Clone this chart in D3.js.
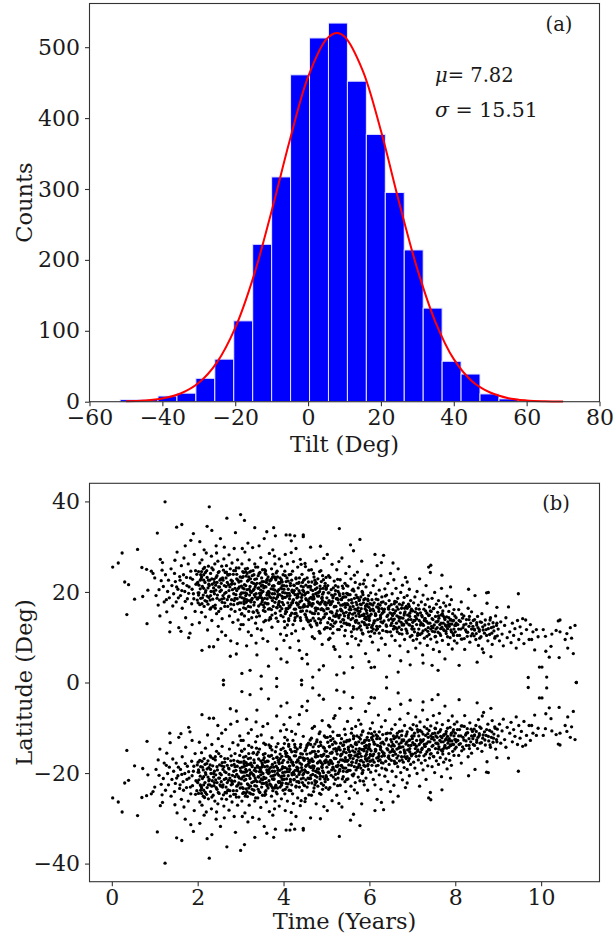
<!DOCTYPE html>
<html>
<head>
<meta charset="utf-8">
<title>Tilt distribution and butterfly diagram</title>
<style>
  body { margin: 0; background: #fff; }
  text { font-family: "DejaVu Serif", serif; fill: #1a1a1a; }
</style>
</head>
<body>
<script src="https://d3js.org/d3.v7.min.js"></script>
<script>

// ---- panel (a): tilt histogram ----
var binEdges = [-51.6, -46.4, -41.2, -36.0, -30.8, -25.6, -20.4, -15.2, -10.0, -4.8, 0.4,
                5.6, 10.8, 16.0, 21.2, 26.4, 31.6, 36.8, 42.0, 47.2, 52.4, 57.6];
var binCounts = [3, 3, 8, 12, 33, 60, 114, 222, 317, 461, 513,
                 534, 452, 377, 295, 214, 132, 57, 39, 11, 4];
// gaussian fit
var fitTilt   = [-50, -45, -40, -35, -30, -25, -20, -15, -10, -5, 0, 5, 7.82, 10, 15, 20, 25, 30, 35, 40, 45, 50, 55, 60, 65, 70];
var fitCounts = [0.5, 1.6, 4.5, 11.5, 26.6, 55.4, 104, 176, 269, 369, 458, 511, 520, 515, 467, 382, 281, 187, 112, 60, 29, 13, 5, 1.8, 0.6, 0.2];
var fitLabels = ["7.82", "15.51"];
var tiltTicks  = [-60, -40, -20, 0, 20, 40, 60, 80];
var countTicks = [0, 100, 200, 300, 400, 500];

// ---- panel (b): butterfly diagram ----
// flat pairs: time in 0.01 yr, |latitude| in 0.1 deg (plotted in both hemispheres)
var groupsRise = [
 2,255, 15,264, 24,286, 30,222, 35,150, 39,216, 53,184, 60,294, 70,254, 72,190, 81,250, 82,130, 84,204, 92,246, 96,241,
 100,231, 106,330, 113,272, 117,248, 124,399, 127,183, 151,343, 163,349, 184,314, 190,329,
 103,192, 108,171, 110,205, 112,147, 115,225, 118,265, 120,212, 122,178, 125,238, 128,156, 130,201, 132,226, 134,187, 136,133,
 138,251, 140,214, 142,169, 144,196, 146,241, 148,223, 150,178, 152,288, 154,206, 156,121, 158,234, 160,192, 162,258, 164,164,
 166,219, 168,275, 170,201, 172,143, 174,232, 176,185, 178,262, 180,211, 182,109, 184,246, 186,174, 188,228, 190,196, 192,283,
 194,157, 196,217, 198,239, 199,182, 171,302, 147,270, 135,112, 187,128, 161,113, 179,99, 210,71, 227,79,
 200,221, 201,176, 202,245, 203,198, 204,132, 205,264, 206,207, 207,186, 208,229, 209,155,
 210,271, 211,212, 213,193, 214,238, 215,168, 216,254, 217,221, 218,145, 219,203,
 220,286, 221,179, 222,232, 223,116, 224,209, 225,257, 226,188, 227,388, 228,226, 229,162,
 230,241, 231,201, 232,279, 233,137, 234,217, 235,184, 236,249, 237,79, 238,228, 239,196,
 240,262, 241,171, 242,215, 243,302, 244,152, 245,236, 246,193, 247,268, 248,124, 249,211,
 250,245, 251,182, 252,226, 253,318, 254,163, 255,204, 256,257, 257,141, 258,231, 259,192, 260,5,
 261,273, 262,214, 263,176, 264,243, 265,104, 266,199, 267,258, 268,363, 269,221, 270,168,
 271,237, 272,189, 273,282, 274,147, 275,211, 276,251, 277,92, 278,226, 279,183, 280,264,
 281,205, 282,133, 283,239, 284,172, 285,296, 286,218, 287,157, 288,247, 289,194, 290,63,
 291,229, 292,185, 293,271, 294,138, 295,208, 296,253, 297,176, 298,118, 299,233,
 205,311, 215,293, 233,336, 247,95, 262,299, 276,58, 288,331, 222,345, 244,286, 256,112, 292,86, 209,245
];
var groupsMax = [
 300,195, 300,371, 301,224, 302,151, 303,262, 304,187, 305,209, 306,128, 307,243, 308,174, 309,216,
 310,288, 311,198, 312,163, 313,235, 314,81, 315,205, 316,252, 317,181, 318,226, 319,139,
 320,271, 321,193, 322,212, 323,167, 324,246, 325,104, 326,221, 327,186, 328,298, 329,203,
 330,155, 331,238, 332,177, 333,262, 334,211, 335,131, 336,196, 337,229, 338,61, 339,184,
 340,255, 341,208, 342,169, 343,241, 344,147, 345,219, 346,192, 347,276, 348,116, 349,231,
 350,178, 351,249, 352,201, 353,159, 354,223, 355,318, 356,186, 357,242, 358,137, 359,211,
 360,264, 361,174, 362,198, 363,91, 364,233, 365,162, 366,217, 367,285, 368,189, 369,144,
 370,226, 371,207, 372,251, 373,122, 374,181, 375,239, 376,168, 377,342, 378,213, 379,196,
 380,262, 381,153, 382,227, 383,185, 384,74, 385,246, 386,201, 387,135, 388,219, 389,176,
 390,273, 391,194, 392,231, 393,107, 394,209, 395,257, 396,163, 397,222, 398,186, 399,145,
 301,128, 304,296, 307,165, 311,251, 314,183, 318,112, 321,244, 325,199, 329,156, 333,228,
 336,87, 340,187, 343,302, 347,173, 351,215, 354,134, 358,247, 361,193, 365,36, 368,224,
 372,161, 376,206, 379,279, 383,142, 386,233, 390,179, 394,52, 397,214, 399,238, 302,213,
 306,234, 309,147, 313,177, 317,308, 322,181, 326,143, 331,206, 335,255, 339,119, 344,197,
 348,213, 352,97, 357,176, 362,228, 366,138, 371,187, 375,293, 380,204, 385,165, 389,221,
 392,158, 396,191, 303,20, 322,27, 348,14, 384,9, 333,342, 309,358, 361,333, 381,324,
 312,245, 356,249, 374,232, 395,227,
 400,172, 401,214, 402,135, 403,246, 404,188, 405,157, 406,223, 407,104, 408,197, 409,262,
 410,163, 411,206, 412,141, 413,238, 414,185, 415,77, 416,219, 417,171, 418,287, 419,153,
 420,201, 421,246, 422,128, 423,183, 424,215, 425,162, 426,324, 427,194, 428,114, 429,231,
 430,176, 431,208, 432,147, 433,255, 434,189, 435,92, 436,221, 437,166, 438,198, 439,272,
 440,137, 441,213, 442,181, 443,239, 444,158, 445,204, 446,119, 447,226, 448,172, 449,193,
 450,263, 451,149, 452,215, 453,183, 454,62, 455,231, 456,168, 457,199, 458,134, 459,248,
 460,177, 461,211, 462,156, 463,299, 464,188, 465,123, 466,222, 467,174, 468,203, 469,142,
 470,241, 471,185, 472,97, 473,217, 474,164, 475,196, 476,268, 477,131, 478,209, 479,178,
 480,229, 481,152, 482,191, 483,113, 484,245, 485,173, 486,207, 487,139, 488,223, 489,186,
 490,84, 491,236, 492,161, 493,199, 494,274, 495,145, 496,213, 497,177, 498,121, 499,232,
 401,93, 404,283, 407,156, 411,224, 415,192, 419,108, 423,267, 427,143, 431,187, 435,219,
 439,165, 443,53, 447,201, 451,256, 455,138, 459,174, 463,212, 467,101, 471,233, 475,158,
 479,191, 483,28, 487,247, 491,181, 495,118, 499,206, 403,198, 409,127, 413,169, 417,239,
 421,176, 425,214, 429,153, 433,195, 437,71, 441,261, 445,167, 449,228, 453,144, 457,211,
 461,186, 465,249, 469,174, 473,136, 477,219, 481,198, 485,109, 489,163, 493,227, 497,151,
 406,326, 418,313, 429,296, 446,322, 456,41, 468,12, 486,301, 493,37, 408,45, 442,5, 415,326, 446,326,
 500,152, 501,187, 502,121, 503,214, 504,163, 505,95, 506,198, 507,141, 508,232, 509,172,
 510,128, 511,205, 512,156, 513,261, 514,179, 515,109, 516,191, 517,147, 518,224, 519,168,
 520,73, 521,203, 522,134, 523,185, 524,249, 525,158, 526,117, 527,211, 528,176, 529,143,
 530,196, 531,57, 532,227, 533,162, 534,184, 535,124, 536,275, 537,171, 538,139, 539,208,
 540,153, 541,189, 542,103, 543,219, 544,166, 545,241, 546,131, 547,197, 548,174, 549,86,
 550,213, 551,148, 552,182, 553,256, 554,127, 555,194, 556,161, 557,229, 558,112, 559,176,
 560,204, 561,142, 562,168, 563,291, 564,119, 565,186, 566,154, 567,221, 568,97, 569,193,
 570,137, 571,172, 572,244, 573,158, 574,209, 575,83, 576,181, 577,146, 578,217, 579,125,
 580,189, 581,163, 582,268, 583,134, 584,199, 585,107, 586,176, 587,151, 588,226, 589,141,
 590,185, 591,64, 592,211, 593,159, 594,173, 595,121, 596,238, 597,147, 598,192, 599,166,
 502,283, 508,98, 514,137, 520,195, 526,228, 532,149, 538,188, 544,115, 550,172, 556,304,
 562,206, 568,133, 574,165, 580,92, 586,218, 592,144, 598,112, 505,236, 511,174, 517,79,
 523,152, 529,267, 535,183, 541,131, 547,214, 553,161, 559,102, 565,237, 571,118, 577,183,
 583,201, 589,128, 595,169, 530,340, 578,316, 557,57, 524,17, 561,33, 599,46, 541,21
];
var groupsDecline = [
 600,137, 601,174, 602,102, 603,198, 604,151, 605,122, 606,183, 607,89, 608,162, 609,214,
 610,131, 611,176, 612,109, 613,226, 614,148, 615,195, 616,116, 617,167, 618,258, 619,139,
 620,183, 621,72, 622,157, 623,204, 624,124, 625,171, 626,143, 627,236, 628,98, 629,189,
 630,153, 631,115, 632,178, 633,281, 634,136, 635,162, 636,207, 637,84, 638,174, 639,127,
 640,193, 641,146, 642,112, 643,219, 644,165, 645,138, 646,181, 647,59, 648,154, 649,241,
 650,126, 651,172, 652,103, 653,196, 654,148, 655,161, 656,118, 657,227, 658,140, 659,179,
 660,93, 661,158, 662,208, 663,131, 664,167, 665,112, 666,186, 667,251, 668,145, 669,122,
 670,173, 671,81, 672,154, 673,199, 674,133, 675,164, 676,107, 677,215, 678,142, 679,176,
 680,127, 681,188, 682,95, 683,156, 684,232, 685,136, 686,168, 687,114, 688,192, 689,149,
 690,68, 691,173, 692,128, 693,206, 694,153, 695,101, 696,181, 697,139, 698,162, 699,119,
 613,283, 612,34, 640,12, 655,264, 673,48, 688,222, 604,33, 695,39, 628,265, 667,23,
 700,124, 701,158, 702,93, 703,176, 704,137, 705,112, 706,189, 707,146, 708,76, 709,163,
 710,128, 711,201, 712,104, 713,149, 714,171, 715,118, 716,137, 717,229, 718,87, 719,154,
 720,132, 721,178, 722,109, 723,145, 724,61, 725,193, 726,126, 727,162, 728,98, 729,141,
 730,172, 731,117, 732,214, 733,135, 734,153, 735,82, 736,184, 737,121, 738,148, 739,106,
 740,167, 741,131, 742,243, 743,96, 744,157, 745,124, 746,186, 747,113, 748,139, 749,73,
 750,164, 751,127, 752,199, 753,101, 754,146, 755,118, 756,173, 757,89, 758,134, 759,155,
 760,111, 761,181, 762,142, 763,68, 764,128, 765,166, 766,104, 767,149, 768,208, 769,122,
 770,93, 771,158, 772,131, 773,176, 774,115, 775,143, 776,52, 777,127, 778,169, 779,108,
 780,145, 781,191, 782,119, 783,134, 784,84, 785,157, 786,124, 787,172, 788,99, 789,138,
 790,116, 791,183, 792,129, 793,74, 794,152, 795,108, 796,137, 797,161, 798,92, 799,126,
 738,255, 743,259, 769,237, 725,43, 746,38, 760,27, 789,211,
 800,112, 802,143, 804,87, 806,128, 808,161, 810,104, 812,135, 814,178, 816,96, 818,121,
 820,147, 822,73, 824,116, 826,139, 828,102, 830,164, 832,124, 834,89, 836,131, 838,156,
 840,108, 842,137, 844,118, 846,192, 848,95, 850,127, 852,146, 854,82, 856,113, 858,134,
 860,101, 862,152, 864,123, 866,66, 868,109, 870,138, 872,117, 874,175, 876,92, 878,129,
 880,106, 882,143, 884,121, 886,84, 888,132, 890,114, 892,98, 894,147, 896,126, 898,103,
 831,206, 873,198, 877,199, 809,38, 851,45, 883,57, 897,166, 863,74, 815,151, 845,116,
 900,118, 903,92, 906,134, 909,107, 912,81, 915,126, 918,143, 921,99, 924,167, 927,112,
 930,88, 933,131, 936,104, 939,119, 942,76, 945,137, 947,196, 948,95, 951,123, 954,108,
 957,141, 960,86, 964,138, 966,117, 970,11, 972,95, 975,128, 978,95, 981,112, 985,72,
 989,117, 993,101, 996,34,
 1002,34, 1005,117, 1010,102, 1011,69, 1013,12, 1019,56, 1023,80, 1025,107, 1035,115, 1040,136,
 1042,55, 1044,138, 1044,112, 1056,95, 1060,108, 1062,76, 1068,121, 1071,98, 1075,64, 1079,126, 1082,0
];
// the dense band of the wings
var groupsCore = [
 203,215, 207,238, 211,187, 214,226, 218,199, 221,247, 224,173, 227,214, 230,192, 233,253,
 236,168, 239,221, 242,204, 245,186, 248,243, 251,211, 254,229, 257,177, 260,248, 263,197,
 266,231, 269,183, 272,216, 275,239, 278,162, 281,224, 284,196, 287,208, 290,253, 293,174,
 296,222, 299,189, 201,198, 205,172, 209,233, 213,251, 217,181, 225,226, 231,165, 237,209,
 243,232, 249,157, 255,219, 261,186, 267,244, 273,203, 279,217, 285,181, 291,239, 297,211,
 301,176, 304,232, 306,198, 309,185, 312,214, 315,241, 318,168, 320,206, 323,229, 326,183,
 329,247, 332,194, 335,216, 338,159, 341,236, 344,188, 347,204, 350,223, 353,171, 356,212,
 359,239, 362,185, 365,201, 368,163, 371,228, 374,196, 377,214, 380,177, 383,242, 386,189,
 389,205, 392,168, 395,223, 398,199, 303,152, 308,207, 314,196, 319,233, 324,178, 330,219,
 337,145, 342,209, 349,187, 355,166, 360,221, 366,193, 373,149, 379,233, 388,172, 396,207,
 401,188, 404,152, 407,213, 410,176, 413,197, 416,148, 419,226, 422,181, 425,203, 428,162,
 431,219, 434,173, 437,231, 440,157, 443,194, 446,211, 449,168, 452,185, 455,139, 458,222,
 461,172, 464,205, 467,153, 470,189, 473,226, 476,164, 479,198, 482,141, 485,213, 488,177,
 491,195, 494,158, 497,219, 499,171, 403,121, 408,231, 414,166, 420,204, 426,137, 432,192,
 438,178, 444,221, 450,151, 456,199, 462,127, 468,184, 474,206, 480,163, 486,132, 492,208,
 501,163, 504,198, 507,142, 510,177, 513,154, 516,209, 519,131, 522,168, 525,186, 528,147,
 531,192, 534,159, 537,213, 540,138, 543,174, 546,155, 549,196, 552,129, 555,167, 558,183,
 561,151, 564,202, 567,136, 570,161, 573,187, 576,121, 579,173, 582,148, 585,194, 588,132,
 591,169, 594,153, 597,181, 599,128, 503,176, 509,119, 515,187, 521,146, 527,201, 533,134,
 539,172, 545,189, 551,143, 557,161, 563,124, 569,177, 575,152, 581,116, 587,183, 593,139,
 601,147, 604,173, 607,126, 610,158, 613,136, 616,184, 619,119, 622,163, 625,141, 628,177,
 631,132, 634,156, 637,191, 640,124, 643,149, 646,168, 649,112, 652,152, 655,137, 658,174,
 661,121, 664,147, 667,162, 670,108, 673,143, 676,171, 679,129, 682,153, 685,118, 688,164,
 691,139, 694,127, 697,158, 699,104, 603,161, 609,118, 615,149, 621,173, 627,134, 633,158,
 639,113, 645,162, 651,141, 657,124, 663,178, 669,136, 675,117, 681,149, 687,132, 693,168,
 701,133, 704,118, 707,156, 710,141, 713,109, 716,162, 719,127, 722,148, 725,114, 728,137,
 731,158, 734,102, 737,131, 740,149, 743,118, 746,141, 749,163, 752,112, 755,134, 758,121,
 761,147, 764,108, 767,131, 770,152, 773,117, 776,139, 779,124, 782,101, 785,143, 788,129,
 791,112, 794,136, 797,118, 799,147, 710,96,
 801,126, 805,104, 809,137, 813,118, 817,142, 821,97, 825,129, 829,111, 833,146, 837,103,
 841,124, 845,139, 849,108, 853,121, 857,98, 861,133, 865,116, 869,127, 873,104, 877,119,
 881,138, 885,109, 889,123, 893,101, 897,131,
 151,211, 155,187, 159,226, 163,203, 167,238, 171,179, 175,214, 179,197, 183,231, 187,206,
 191,185, 195,247, 199,219, 202,193, 206,226, 210,174, 214,208, 218,243, 222,191, 226,217,
 229,182, 233,229, 237,201, 241,164, 245,221,
 252,201, 256,184, 259,226, 263,168, 266,212, 270,239, 273,191, 277,173, 280,219, 284,247,
 287,186, 291,203, 294,226, 298,161, 302,198, 305,245, 308,179, 312,192, 316,224, 319,157,
 323,201, 327,236, 331,171, 334,189, 338,219, 341,154, 345,243, 348,197,
 351,182, 354,209, 357,157, 361,226, 364,174, 367,198, 370,141, 374,213, 377,187, 381,231,
 384,166, 387,194, 391,219, 394,148, 397,177, 401,206, 404,236, 406,163, 409,191, 412,137,
 416,214, 419,176, 423,198, 426,152, 429,229, 433,171, 436,203, 439,143, 442,188, 446,167,
 451,196, 454,158, 457,181, 460,212, 463,137, 466,169, 469,194, 472,152, 475,221, 478,127,
 481,176, 484,201, 487,161, 490,188, 493,143, 496,174, 500,209, 503,132, 506,181, 509,156,
 512,193, 515,124, 518,167, 521,214, 524,149, 527,183, 530,117, 533,171, 536,158, 539,196,
 542,147, 545,172, 548,128, 551,194, 554,153, 557,139, 560,176, 563,118, 566,162, 569,147,
 572,188, 575,131, 578,157, 581,172, 584,109, 587,148, 590,163, 593,127, 596,184, 599,142,
 602,159, 605,113, 608,171, 611,136, 614,152, 617,124, 620,166, 623,109, 626,148, 629,163,
 652,131, 658,153, 664,118, 670,142, 676,127, 682,164, 688,109, 694,146, 700,118, 706,137,
 712,152, 718,106, 724,129, 730,141, 736,113, 742,158, 748,121, 754,102, 760,136, 766,119,
 772,147, 778,113, 784,128, 790,139, 796,104, 802,131, 808,118, 814,96, 820,127, 826,112,
 832,139, 838,118, 844,103, 850,132, 856,117
];
var timeTicks = [0, 2, 4, 6, 8, 10];
var latTicks  = [-40, -20, 0, 20, 40];

// ---- layout ----
var width = 614, height = 942;
var panelA = {left: 89.5, right: 599.5, top: 3.5, bottom: 401.7};
var panelB = {left: 89.5, right: 599.5, top: 483.3, bottom: 881.7};
var labelSize = "22.5px", tickSize = "22px";

var svg = d3.select("body")
    .append("svg")
    .attr("width", width)
    .attr("height", height);

function frame(p) {
    svg.append("rect")
        .attr("x", p.left).attr("y", p.top)
        .attr("width", p.right - p.left).attr("height", p.bottom - p.top)
        .style("fill", "none")
        .style("stroke", "#333")
        .style("stroke-width", "1.1px");
}

function axes(p, x, y, xt, yt) {
    var gx = svg.append("g")
        .attr("transform", "translate(0," + p.bottom + ")")
        .call(d3.axisBottom(x).tickValues(xt).tickSize(4.5).tickPadding(4));
    var gy = svg.append("g")
        .attr("transform", "translate(" + p.left + ",0)")
        .call(d3.axisLeft(y).tickValues(yt).tickSize(4.5).tickPadding(5));
    [gx, gy].forEach(function(g) {
        g.select(".domain").remove();
        g.selectAll("line").style("stroke", "#333").style("stroke-width", "1.1px");
        g.selectAll("text")
            .style("font-family", "DejaVu Serif")
            .style("font-size", tickSize)
            .style("fill", "#1a1a1a");
    });
    gx.selectAll("text").attr("dy", "0.68em");
}

// ---- (a) ----
var xA = d3.scaleLinear().domain([-60, 80]).range([panelA.left, panelA.right]);
var yA = d3.scaleLinear().domain([0, 561.6]).range([panelA.bottom, panelA.top]);

svg.append("g").selectAll("rect")
    .data(binCounts)
    .enter().append("rect")
    .attr("x", function(d, i) { return xA(binEdges[i]); })
    .attr("width", function(d, i) { return xA(binEdges[i + 1]) - xA(binEdges[i]); })
    .attr("y", function(d) { return yA(d); })
    .attr("height", function(d) { return yA(0) - yA(d); })
    .style("fill", "#0000ff")
    .style("stroke", "#e6e6ff")
    .style("stroke-width", "1px");

var fitLine = d3.line()
    .x(function(d, i) { return xA(fitTilt[i]); })
    .y(function(d) { return yA(d); })
    .curve(d3.curveCatmullRom);

svg.append("path")
    .datum(fitCounts)
    .attr("d", fitLine)
    .style("stroke", "#ff0000")
    .style("stroke-width", "2px")
    .style("fill", "none");

frame(panelA);
axes(panelA, xA, yA, tiltTicks, countTicks);

var mu = svg.append("text").attr("x", 435).attr("y", 82).style("font-size", "19.5px");
mu.append("tspan").style("font-style", "italic").text("\u03bc");
mu.append("tspan").text("= " + fitLabels[0]);
var sg = svg.append("text").attr("x", 435).attr("y", 117).style("font-size", "20.5px");
sg.append("tspan").style("font-style", "italic").text("\u03c3");
sg.append("tspan").text(" = " + fitLabels[1]);

svg.append("text")
    .attr("x", 559).attr("y", 31)
    .attr("text-anchor", "middle")
    .style("font-size", "19.5px")
    .text("(a)");

svg.append("text")
    .attr("x", 344.5).attr("y", 452)
    .attr("text-anchor", "middle")
    .style("font-size", labelSize)
    .text("Tilt (Deg)");

svg.append("text")
    .attr("transform", "translate(32," + ((panelA.top + panelA.bottom) / 2) + ") rotate(-90)")
    .attr("text-anchor", "middle")
    .style("font-size", labelSize)
    .text("Counts");

// ---- (b) ----
var xB = d3.scaleLinear().domain([-0.52, 11.36]).range([panelB.left, panelB.right]);
var yB = d3.scaleLinear().domain([-44, 44]).range([panelB.bottom, panelB.top]);

var groups = [];
[groupsRise, groupsMax, groupsDecline, groupsCore].forEach(function(arr) {
    for (var i = 0; i < arr.length; i += 2) {
        groups.push({t: arr[i] / 100, lat: arr[i + 1] / 10});
        groups.push({t: arr[i] / 100, lat: -arr[i + 1] / 10});
    }
});

svg.append("g").selectAll("circle")
    .data(groups)
    .enter().append("circle")
    .attr("cx", function(d) { return xB(d.t); })
    .attr("cy", function(d) { return yB(d.lat); })
    .attr("r", 1.65)
    .style("fill", "#000");

frame(panelB);
axes(panelB, xB, yB, timeTicks, latTicks);

svg.append("text")
    .attr("x", 556).attr("y", 510)
    .attr("text-anchor", "middle")
    .style("font-size", "19.5px")
    .text("(b)");

svg.append("text")
    .attr("x", 344.5).attr("y", 929)
    .attr("text-anchor", "middle")
    .style("font-size", labelSize)
    .text("Time (Years)");

svg.append("text")
    .attr("transform", "translate(32," + ((panelB.top + panelB.bottom) / 2) + ") rotate(-90)")
    .attr("text-anchor", "middle")
    .style("font-size", labelSize)
    .text("Latitude (Deg)");

</script>
</body>
</html>
